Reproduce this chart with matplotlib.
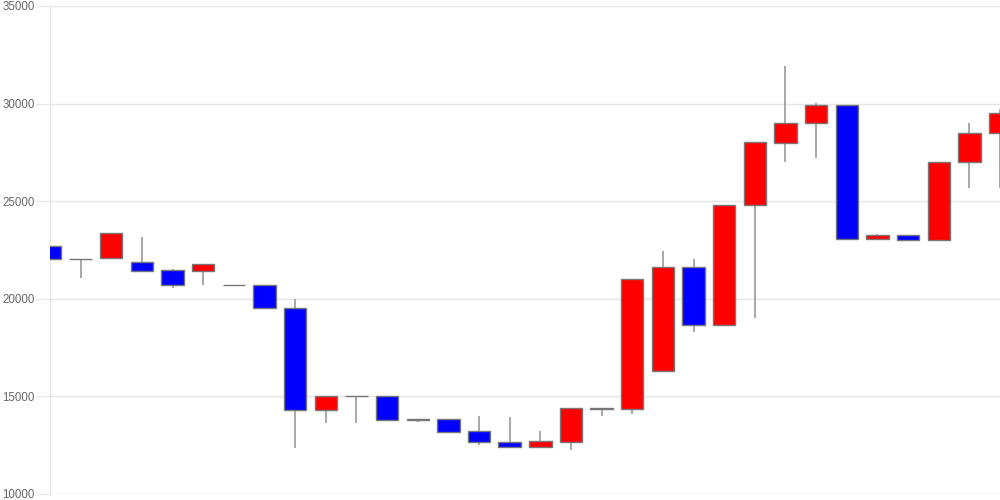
import matplotlib
matplotlib.use("Agg")
import matplotlib.pyplot as plt
from matplotlib.patches import Rectangle

opens  = [22700, 22030, 22090, 21870, 21460, 21440, 20700, 20710, 19513, 14303, 15020, 15020,
          13820, 13820, 13210, 12664, 12392, 12679, 14420, 14339, 16286, 21613, 18642, 24805,
          28000, 28990, 29913, 23048, 23260, 22997, 26992, 28509]
closes = [22040, 22060, 23370, 21440, 20707, 21767, 20700, 19513, 14303, 15020, 15020, 13805,
          13800, 13191, 12648, 12392, 12715, 14406, 14370, 20999, 21613, 18642, 24805, 28017,
          29006, 29913, 23048, 23268, 22997, 27008, 28509, 29503]
highs  = [23320, 22060, 23370, 23166, 21510, 21767, 20710, 20710, 19990, 15020, 15020, 15020,
          13820, 13820, 13996, 13960, 13227, 14406, 14420, 20999, 22449, 22023, 24805, 28017,
          31911, 30015, 29913, 23300, 23260, 27008, 29006, 29739]
lows   = [21014, 21060, 22090, 21372, 20570, 20707, 20700, 19513, 12356, 13621, 13650, 13805,
          13700, 13191, 12510, 12392, 12392, 12254, 14000, 14114, 16286, 18314, 18642, 19000,
          27008, 27198, 23048, 23048, 22997, 22997, 25692, 25692]
y_ticks = [10000, 15000, 20000, 25000, 30000, 35000]

fig = plt.figure(figsize=(10, 5), dpi=100)
ax = fig.add_axes([0.05, 0.012, 0.95, 0.976])

width = 0.73
for i, (o, c, h, l) in enumerate(zip(opens, closes, highs, lows)):
    color = "#ff0000" if c >= o else "#0000ff"
    ax.vlines(i, l, h, color="#999999", linewidth=1.2, zorder=2)
    bottom = min(o, c)
    height = abs(c - o)
    ax.add_patch(Rectangle((i - width / 2, bottom), width, height,
                           facecolor=color, edgecolor="#777777", linewidth=1.0, zorder=3))

ax.set_xlim(0, len(opens) - 1)
ax.set_ylim(10000, 35000)
ax.set_yticks(y_ticks)
ax.set_yticklabels([str(t) for t in y_ticks], fontsize=8.3, color="#666666",
                   family=["Liberation Sans", "DejaVu Sans"])
ax.set_xticks([])
ax.grid(axis="y", color="#e6e6e6", linewidth=1.0, zorder=0)
ax.set_axisbelow(True)
for s in ["top", "right", "bottom"]:
    ax.spines[s].set_visible(False)
ax.spines["left"].set_color("#e6e6e6")
ax.tick_params(axis="y", length=10, color="#e6e6e6", pad=1)

fig.savefig("out.png", dpi=100)
